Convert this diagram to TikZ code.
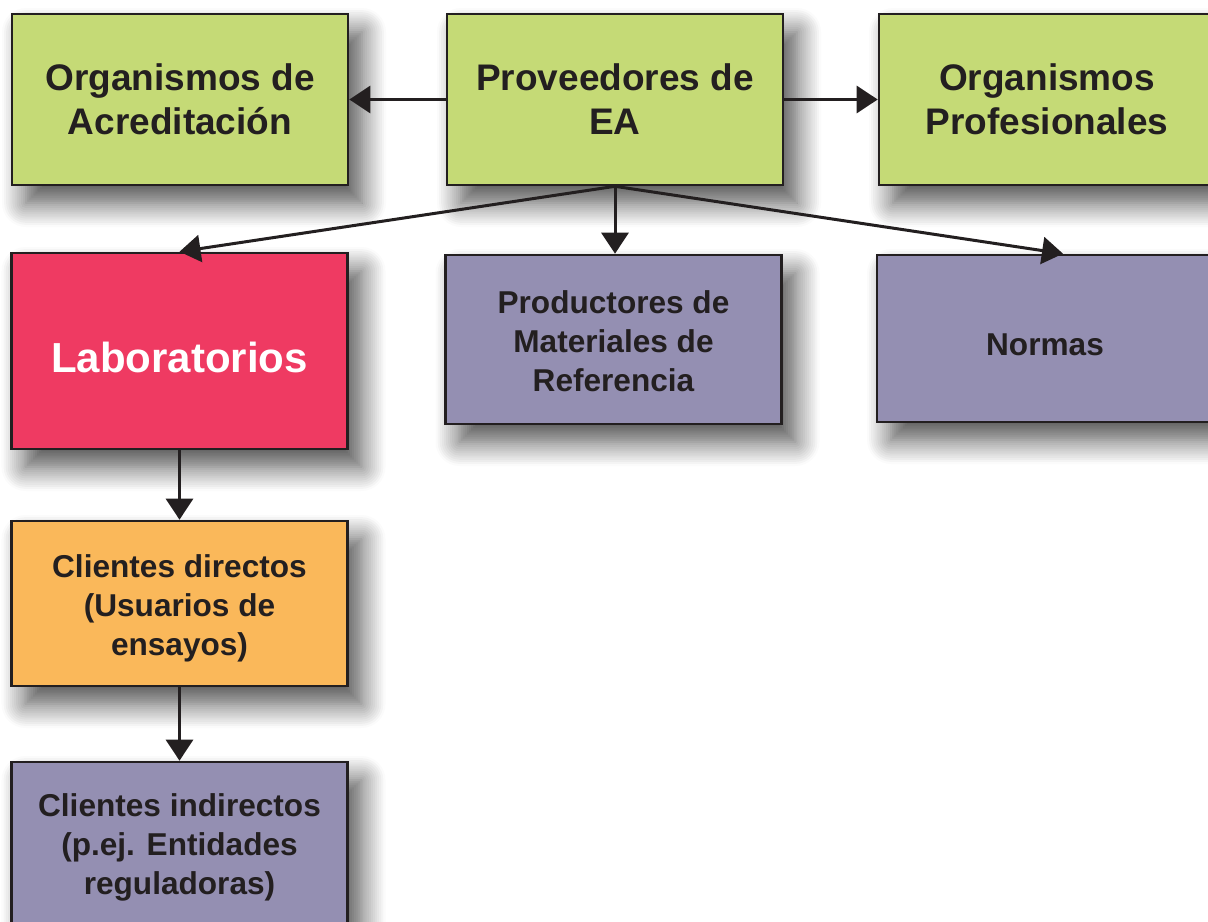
\documentclass[tikz,border=0pt]{standalone}
\usepackage{fontspec}
\setmainfont{Liberation Sans}
\usetikzlibrary{arrows.meta,shadows.blur}
\definecolor{boxgreen}{RGB}{197,218,118}
\definecolor{boxred}{RGB}{239,58,98}
\definecolor{boxpurple}{RGB}{148,143,178}
\definecolor{boxorange}{RGB}{250,184,90}
\definecolor{ink}{RGB}{35,31,32}
\newcommand{\lowered}[2]{\raisebox{-#1}[\height][\depth]{#2}}
\tikzset{
  box/.style={draw=ink, line width=1.3pt, minimum width=168pt, inner sep=0pt,
    align=center, text=ink,
    blur shadow={shadow xshift=7pt, shadow yshift=-9pt,
      shadow blur radius=12pt, shadow blur steps=12, shadow opacity=70}},
  bigtext/.style={font=\fontsize{18.5}{22}\selectfont\bfseries},
  smalltext/.style={font=\fontsize{15.8}{19.5}\selectfont\bfseries},
}
\begin{document}
\begin{tikzpicture}[x=0.5pt, y=-0.5pt]
      \useasboundingbox (0,0) rectangle (1208,921);
      \node[box, bigtext, fill=boxgreen, minimum height=85.5pt] (acred) at (180,99.5) {Organismos de\\Acreditación};
      \node[box, bigtext, fill=boxgreen, minimum height=85.5pt] (prov) at (615,99.5) {Proveedores de\\EA};
      \node[box, bigtext, fill=boxgreen, minimum height=85.5pt] (prof) at (1047,99.5) {Organismos\\Profesionales};
      \node[box, fill=boxred, minimum height=98pt, text=white,
        font=\fontsize{21}{25}\selectfont\bfseries] (lab) at (179.5,351) {\lowered{3pt}{Laboratorios}};
      \node[box, smalltext, fill=boxpurple, minimum height=84.5pt] (prod) at (613.5,339.5) {\lowered{2.75pt}{\begin{tabular}{@{}c@{}}Productores de\\Materiales de\\Referencia\end{tabular}}};
      \node[box, smalltext, fill=boxpurple, minimum height=83.5pt] (normas) at (1045,338.5) {\lowered{3pt}{Normas}};
      \node[box, smalltext, fill=boxorange, minimum height=82.5pt] (cdir) at (179.5,603.5) {\lowered{2.75pt}{\begin{tabular}{@{}c@{}}Clientes directos\\(Usuarios de\\ensayos)\end{tabular}}};
      \node[box, smalltext, fill=boxpurple, minimum height=83pt] (cind) at (179.5,845) {\lowered{1.5pt}{\begin{tabular}{@{}c@{}}Clientes indirectos\\(p.ej. Entidades\\reguladoras)\end{tabular}}};
      \coordinate (normtip) at ([xshift=9pt]normas.north);
      \begin{scope}[-{Triangle[length=10.5pt,width=13.5pt]}, line width=1.5pt, draw=ink]
        \draw (prov) to (acred);
        \draw (prov) to (prof);
        \draw (prov.south) to (lab.north);
        \draw (prov.south) to (prov.south |- prod.north);
        \draw (prov.south) to (normtip);
        \draw (lab) to (cdir);
        \draw (cdir) to (cind);
      \end{scope}
    \end{tikzpicture}
\end{document}
